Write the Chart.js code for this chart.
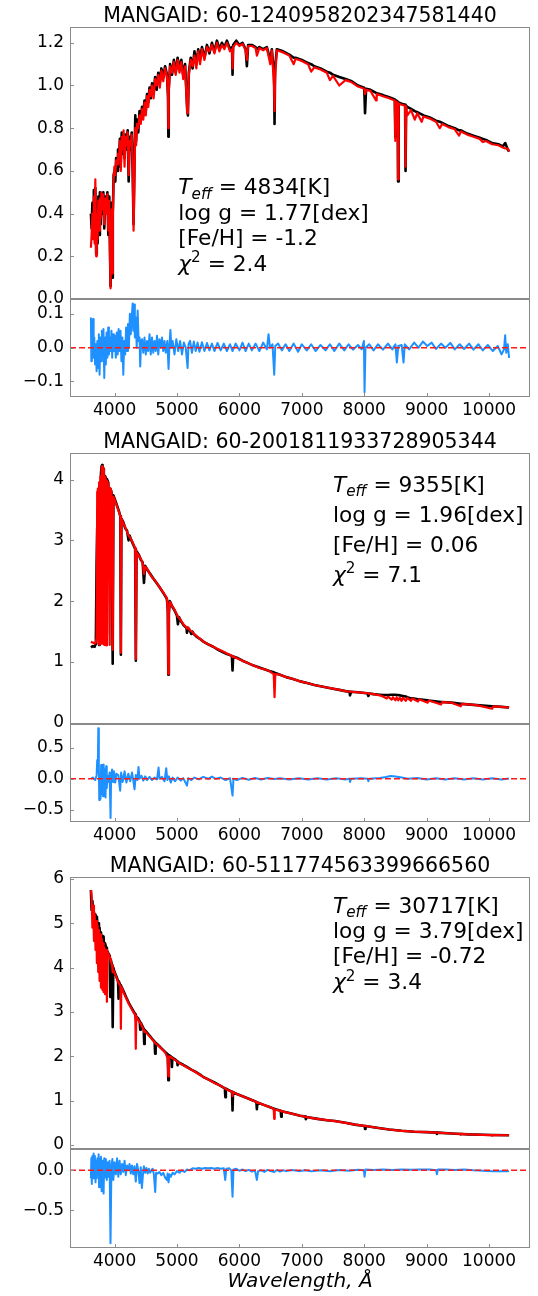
<!DOCTYPE html>
<html>
<head>
<meta charset="utf-8">
<script src="https://cdn.jsdelivr.net/npm/chart.js@4.4.0/dist/chart.umd.min.js"></script>
<style>
body { margin: 0; background: #fff; width: 538px; height: 1296px; overflow: hidden; position: relative; }
canvas { position: absolute; left: 0; }
</style>
</head>
<body>
<canvas id="main1" width="538" height="317" style="top:0px"></canvas>
<canvas id="res1" width="538" height="151" style="top:281px"></canvas>
<canvas id="main2" width="538" height="316" style="top:426px"></canvas>
<canvas id="res2" width="538" height="151" style="top:706px"></canvas>
<canvas id="main3" width="538" height="317" style="top:850px"></canvas>
<canvas id="res3" width="538" height="165" style="top:1131px"></canvas>
<script>
// wavelength axis, shared by every panel
var xMin = 3286, xMax = 10656;
var xTicks = [4000, 5000, 6000, 7000, 8000, 9000, 10000];

var titles = ['MANGAID: 60-1240958202347581440', 'MANGAID: 60-2001811933728905344', 'MANGAID: 60-511774563399666560'];
var teffs = ['4834', '9355', '30717'];
var loggs = ['1.77', '1.96', '3.79'];
var fehs = ['-1.2', '0.06', '-0.72'];
var chis = ['2.4', '7.1', '3.4'];

var yTicksMain1 = [0, 0.2, 0.4, 0.6, 0.8, 1.0, 1.2];
var yTicksRes1 = [-0.1, 0, 0.1];
var yTicksMain2 = [0, 1, 2, 3, 4];
var yTicksRes2 = [-0.5, 0, 0.5];
var yTicksMain3 = [0, 1, 2, 3, 4, 5, 6];
var yTicksRes3 = [-0.5, 0];

// ---- star 1 ----
var wave1 = [3621,3632,3645,3655,3668,3680,3692,3705,3715,3728,3740,3752,3765,3778,3790,3805,3820,3835,3850,3870,3885,3900,3915,3928,3936,3945,3955,3965,3972,3985,3998,4012,4025,4040,4055,4070,4085,4100,4115,4130,4145,4160,4175,4190,4210,4226,4240,4255,4275,4290,4304,4318,4332,4345,4360,4380,4400,4420,4440,4460,4480,4500,4520,4540,4560,4580,4600,4625,4650,4675,4700,4725,4750,4780,4810,4840,4856,4862,4868,4890,4920,4950,4980,5010,5040,5070,5100,5130,5165,5175,5190,5220,5250,5280,5310,5340,5370,5400,5440,5480,5520,5560,5600,5640,5680,5720,5760,5800,5850,5882,5890,5900,5950,
    6000,6050,6100,6120,6140,6200,6260,6280,6320,6380,6440,6495,6520,6555,6563,6572,6600,6700,6800,6870,6900,7000,7100,7150,7200,7300,7400,7450,7500,7600,7700,7800,7900,8000,8013,8030,8100,8190,8200,8300,8400,8490,8498,8510,8535,8542,8552,8600,8655,8662,8672,8690,8750,8810,8850,8920,8950,9050,9150,9210,9250,9350,9450,9520,9550,9650,9750,9850,9900,9950,10050,10150,10220,10260,10300,10321];
var obs1 = [0.40,0.33,0.45,0.36,0.51,0.30,0.52,0.21,0.42,0.26,0.48,0.30,0.50,0.35,0.49,0.40,0.50,0.33,0.48,0.42,0.50,0.30,0.48,0.20,0.06,0.25,0.45,0.10,0.40,0.58,0.60,0.55,0.66,0.60,0.70,0.62,0.75,0.64,0.78,0.68,0.76,0.66,0.77,0.70,0.79,0.55,0.76,0.70,0.78,0.60,0.35,0.62,0.86,0.74,0.84,0.78,0.88,0.84,0.90,0.86,0.93,0.88,0.96,0.92,0.99,0.94,1.01,0.96,1.04,0.98,1.06,1.01,1.08,1.04,1.09,1.05,0.95,0.76,0.98,1.10,1.05,1.12,1.06,1.13,1.08,1.12,1.05,1.10,0.88,0.86,1.06,1.13,1.08,1.16,1.10,1.17,1.12,1.18,1.13,1.19,1.15,1.20,1.16,1.21,1.17,1.20,1.18,1.21,1.17,1.18,1.05,1.19,1.21,
    1.19,1.20,1.17,1.09,1.19,1.19,1.18,1.17,1.18,1.17,1.18,1.12,1.17,1.05,0.82,1.08,1.17,1.16,1.145,1.13,1.13,1.12,1.105,1.10,1.09,1.08,1.065,1.06,1.05,1.04,1.03,1.02,1.00,0.99,0.87,0.985,0.98,0.965,0.965,0.955,0.945,0.935,0.76,0.93,0.925,0.55,0.92,0.915,0.91,0.60,0.905,0.90,0.89,0.88,0.875,0.865,0.86,0.85,0.835,0.83,0.825,0.81,0.80,0.79,0.79,0.775,0.765,0.755,0.75,0.745,0.73,0.725,0.715,0.73,0.70,0.69];
var model1 = [0.24,0.30,0.40,0.28,0.48,0.26,0.56,0.20,0.40,0.28,0.46,0.32,0.47,0.38,0.50,0.42,0.49,0.35,0.47,0.40,0.49,0.32,0.46,0.18,0.05,0.30,0.42,0.12,0.38,0.56,0.62,0.58,0.65,0.63,0.68,0.65,0.74,0.60,0.76,0.70,0.79,0.62,0.76,0.72,0.78,0.58,0.74,0.72,0.77,0.62,0.32,0.55,0.80,0.72,0.82,0.80,0.86,0.82,0.89,0.84,0.92,0.86,0.95,0.90,0.98,0.95,1.00,0.94,1.03,1.00,1.05,0.99,1.07,1.02,1.08,1.04,0.96,0.80,0.97,1.09,1.06,1.11,1.05,1.12,1.06,1.11,1.03,1.09,0.87,0.88,1.05,1.12,1.09,1.14,1.08,1.16,1.10,1.17,1.12,1.18,1.16,1.19,1.15,1.20,1.16,1.19,1.17,1.20,1.16,1.17,1.08,1.18,1.20,
    1.185,1.195,1.165,1.12,1.185,1.185,1.175,1.14,1.175,1.165,1.175,1.10,1.165,1.00,0.88,1.04,1.165,1.155,1.14,1.10,1.125,1.115,1.10,1.065,1.085,1.075,1.06,1.025,1.045,1.00,1.025,1.015,0.995,0.985,0.96,0.98,0.975,0.93,0.96,0.95,0.94,0.93,0.74,0.925,0.92,0.56,0.915,0.91,0.905,0.62,0.90,0.86,0.885,0.84,0.87,0.83,0.855,0.845,0.83,0.80,0.82,0.805,0.795,0.765,0.785,0.77,0.76,0.75,0.735,0.74,0.725,0.72,0.71,0.705,0.705,0.69];
var resWave1 = [3621,3628,3636,3645,3655,3665,3675,3688,3700,3712,3724,3735,3748,3760,3772,3785,3797,3810,3822,3835,3848,3860,3872,3885,3898,3910,3922,3936,3950,3962,3975,3990,4005,4020,4035,4050,4065,4080,4095,4110,4125,4140,4155,4170,4185,4200,4215,4230,4245,4260,4275,4290,4300,4312,4325,4340,4355,4370,4385,4400,4411,4425,4440,4460,4480,4500,4520,4540,4560,4580,4600,4620,4640,4660,4680,4700,4720,4740,4760,4780,4800,4820,4845,4865,4880,4895,4910,4930,4960,4990,5020,5050,5080,5110,5140,5170,5185,5210,5240,5270,5300,5330,5360,5400,5440,5480,5520,5560,5600,5650,5700,5750,5800,5850,5890,5940,6000,6050,6100,6150,6200,6260,6320,6380,6440,6467,6490,6530,6558,6575,6620,6680,6740,6800,6870,6940,7000,7080,7150,7220,7300,7380,7450,7520,7600,7680,7750,7820,7900,7960,7995,8005,8020,8080,8150,8220,8300,8380,8450,8500,8523,8545,8600,8630,8650,8720,8800,8870,8940,9010,9080,9150,9230,9300,9380,9450,9530,9600,9680,9750,9830,9900,9980,10060,10140,10200,10240,10258,10275,10300,10321];
var res1 = [0.089,-0.040,0.080,0.020,0.085,-0.030,0.030,-0.050,0.010,-0.070,0.020,-0.060,0.040,-0.080,0.030,-0.040,0.050,-0.020,0.055,-0.090,0.030,-0.050,0.045,-0.030,0.060,-0.020,0.030,-0.010,0.050,-0.030,0.040,-0.010,0.035,-0.030,0.045,-0.020,0.055,-0.010,0.050,-0.040,0.030,-0.080,0.020,-0.020,0.060,-0.010,0.070,0.000,0.100,0.040,0.090,0.131,0.050,0.128,0.030,0.090,0.000,0.110,0.020,0.030,-0.056,0.020,0.025,-0.015,0.030,-0.020,0.020,-0.010,0.040,-0.020,0.030,-0.015,0.020,-0.010,0.035,-0.020,0.025,0.000,0.030,-0.010,0.020,-0.015,0.020,-0.063,0.010,0.052,0.000,0.020,-0.020,0.025,-0.010,0.020,-0.020,0.015,0.000,-0.060,0.010,0.020,-0.015,0.018,-0.010,0.015,-0.012,0.016,-0.010,0.014,-0.008,0.012,-0.010,0.014,-0.008,0.012,-0.010,0.010,-0.010,0.012,-0.008,0.015,-0.010,0.012,-0.008,0.012,-0.010,0.015,-0.005,0.040,0.000,0.010,-0.080,0.005,0.012,-0.008,0.010,-0.010,0.012,-0.012,0.010,-0.008,0.010,-0.010,0.008,-0.008,0.010,-0.010,0.012,-0.008,0.010,-0.006,0.008,-0.005,0.020,-0.132,0.000,0.010,-0.008,0.010,-0.006,0.012,-0.005,0.010,-0.044,0.005,0.008,-0.044,0.010,-0.005,0.015,0.000,0.018,0.005,0.015,-0.004,0.012,0.000,0.014,-0.005,0.010,-0.004,0.012,-0.006,0.010,-0.008,0.008,-0.010,0.005,-0.020,-0.005,0.037,-0.015,0.010,-0.030];

// ---- star 2 ----
var wave2 = [3621,3650,3680,3700,3712,3722,3732,3742,3752,3762,3772,3782,3792,3800,3808,3816,3828,3836,3846,3860,3868,3877,3900,3922,3932,3950,3970,3982,4010,4040,4070,4092,4101,4110,4140,4170,4200,4224,4240,4270,4300,4330,4341,4352,4390,4420,4450,4471,4490,4530,4570,4610,4650,4700,4740,4790,4838,4853,4861,4870,4885,4930,4960,5000,5015,5030,5070,5110,5152,5160,5175,5200,5230,5245,5270,5320,5380,5430,5500,5580,5660,5740,5800,5880,5890,5900,5960,6050,6140,6227,6320,6400,6480,6550,6563,6575,6650,6750,6860,6974,7100,7200,7300,7400,7500,7600,7700,7765,7772,7790,7900,8000,8050,8066,8080,8150,8250,8300,8360,8380,8440,8460,8500,8520,8545,8570,8598,8620,8665,8690,8750,8770,8862,8880,9015,9035,9230,9250,9400,9546,9565,9800,10049,10070,10200,10321];
var obs2 = [1.24,1.26,1.25,1.30,2.60,3.20,1.40,3.70,1.28,3.95,1.35,4.10,4.22,4.24,1.45,4.18,4.12,1.30,4.06,4.03,1.45,4.01,3.95,2.40,3.85,3.80,0.97,3.74,3.66,3.57,3.48,3.40,1.12,3.36,3.30,3.20,3.16,3.00,3.08,3.00,2.93,2.86,1.02,2.82,2.76,2.68,2.64,2.30,2.58,2.51,2.45,2.39,2.33,2.26,2.20,2.12,2.04,1.85,0.79,1.80,2.00,1.90,1.85,1.76,1.62,1.74,1.66,1.60,1.56,1.48,1.56,1.53,1.46,1.50,1.46,1.41,1.37,1.33,1.29,1.25,1.20,1.16,1.13,1.10,0.86,1.09,1.07,1.02,0.98,0.94,0.91,0.88,0.85,0.83,0.78,0.82,0.79,0.75,0.72,0.68,0.65,0.62,0.60,0.58,0.56,0.54,0.52,0.51,0.45,0.51,0.50,0.49,0.485,0.44,0.48,0.47,0.46,0.455,0.455,0.455,0.46,0.46,0.46,0.455,0.455,0.45,0.445,0.44,0.43,0.42,0.40,0.40,0.385,0.385,0.37,0.365,0.34,0.34,0.33,0.31,0.31,0.29,0.27,0.27,0.26,0.25];
var model2 = [1.33,1.32,1.30,1.32,1.40,3.80,3.85,1.30,3.95,1.28,4.05,1.30,4.18,4.22,1.30,4.18,4.10,1.28,4.05,4.00,1.27,3.98,3.93,1.28,3.86,3.80,1.20,3.72,3.64,3.56,3.47,3.40,1.15,3.36,3.28,3.22,3.14,3.08,3.06,3.01,2.94,2.87,1.05,2.80,2.75,2.70,2.63,2.45,2.57,2.52,2.44,2.38,2.34,2.26,2.20,2.13,2.05,1.80,0.80,1.82,1.99,1.91,1.86,1.78,1.74,1.73,1.67,1.61,1.57,1.55,1.57,1.53,1.50,1.50,1.46,1.42,1.37,1.33,1.29,1.25,1.21,1.17,1.14,1.10,1.08,1.09,1.06,1.02,0.98,0.94,0.90,0.88,0.85,0.80,0.42,0.80,0.79,0.75,0.72,0.68,0.65,0.62,0.60,0.58,0.56,0.54,0.52,0.51,0.51,0.51,0.50,0.49,0.485,0.48,0.48,0.47,0.45,0.43,0.40,0.43,0.38,0.42,0.37,0.42,0.37,0.41,0.36,0.41,0.36,0.41,0.36,0.40,0.35,0.385,0.33,0.365,0.30,0.34,0.33,0.27,0.31,0.29,0.23,0.27,0.26,0.25];
var resWave2 = [3621,3650,3690,3712,3722,3730,3740,3748,3755,3765,3775,3785,3795,3805,3815,3825,3835,3845,3855,3865,3875,3890,3905,3920,3936,3945,3960,3975,3990,4010,4030,4060,4090,4105,4130,4160,4190,4220,4250,4280,4300,4320,4340,4365,4384,4400,4430,4460,4490,4520,4560,4600,4640,4680,4705,4720,4760,4800,4828,4845,4870,4900,4930,4970,5010,5060,5100,5160,5180,5230,5280,5350,5420,5500,5560,5620,5700,5780,5850,5890,5905,5960,6050,6150,6250,6350,6450,6563,6650,6800,6950,7100,7250,7400,7550,7700,7765,7772,7790,7950,8055,8066,8080,8250,8350,8420,8500,8600,8700,8850,9000,9150,9300,9450,9600,9750,9900,10050,10200,10321];
var res2 = [0.00,0.02,-0.02,0.05,0.30,0.10,0.81,0.20,-0.34,-0.20,-0.32,0.22,-0.25,0.22,-0.28,0.23,-0.10,0.15,-0.30,0.20,-0.15,0.05,-0.05,0.10,-0.63,0.05,0.15,-0.05,0.12,-0.06,0.08,0.06,-0.19,0.10,-0.05,0.12,-0.06,0.08,-0.04,0.10,-0.03,-0.17,0.06,-0.02,0.19,0.00,0.05,-0.03,0.04,-0.02,0.03,-0.02,0.02,-0.01,0.18,0.00,0.03,-0.04,0.17,-0.02,0.04,-0.06,0.02,-0.04,0.02,-0.03,0.01,-0.11,0.01,-0.02,0.02,-0.01,0.03,0.00,0.035,0.00,0.02,-0.02,0.01,-0.27,0.00,-0.02,0.015,-0.015,0.012,-0.01,0.012,-0.005,0.01,-0.01,0.01,-0.012,0.008,-0.01,0.008,-0.01,0.00,-0.05,0.00,0.01,0.00,-0.04,0.00,0.012,0.03,0.045,0.035,0.02,0.00,0.012,-0.01,0.01,-0.012,0.008,-0.012,0.008,-0.012,0.008,-0.01,0.005];

// ---- star 3 ----
var wave3 = [3621,3632,3645,3658,3670,3682,3695,3706,3717,3728,3738,3750,3760,3772,3782,3795,3805,3816,3824,3836,3848,3866,3877,3890,3910,3924,3931,3940,3960,3970,3980,4000,4030,4056,4064,4072,4094,4101,4108,4150,4190,4230,4270,4310,4332,4340,4348,4380,4403,4411,4419,4467,4475,4483,4530,4570,4610,4642,4650,4658,4710,4760,4810,4852,4861,4870,4900,4912,4919,4926,4980,5003,5010,5017,5100,5159,5230,5300,5370,5426,5500,5600,5693,5767,5775,5783,5882,5890,5898,5960,6050,6140,6227,6272,6280,6288,6400,6494,6550,6558,6566,6662,6670,6678,6800,6974,7058,7065,7072,7250,7400,7531,7700,7850,8005,8013,8021,8200,8400,8600,8800,9000,9157,9164,9171,9400,9538,9546,9554,9668,9900,10040,10049,10058,10321];
var obs3 = [5.75,5.30,5.50,5.20,5.25,5.10,5.20,4.95,5.15,4.90,5.00,4.75,4.90,4.65,4.80,4.50,4.72,4.40,4.70,4.30,4.55,4.45,4.40,4.35,4.30,4.26,3.34,4.18,4.05,2.66,4.00,3.90,3.80,3.70,3.30,3.68,3.60,3.50,3.58,3.45,3.32,3.20,3.10,3.00,2.95,2.85,2.90,2.85,2.79,2.60,2.76,2.62,2.28,2.60,2.52,2.45,2.38,2.33,2.06,2.31,2.24,2.17,2.10,2.05,1.46,2.03,2.00,1.98,1.76,1.97,1.92,1.89,1.80,1.87,1.81,1.76,1.70,1.65,1.59,1.53,1.48,1.41,1.34,1.28,1.08,1.27,1.20,0.78,1.19,1.15,1.10,1.05,1.00,0.97,0.81,0.96,0.90,0.85,0.82,0.79,0.81,0.77,0.64,0.76,0.72,0.66,0.64,0.58,0.63,0.59,0.56,0.54,0.50,0.46,0.43,0.36,0.43,0.39,0.35,0.32,0.30,0.29,0.28,0.25,0.28,0.26,0.25,0.25,0.25,0.24,0.23,0.225,0.225,0.225,0.22];
var model3 = [5.75,5.60,4.90,5.40,4.60,5.20,4.40,5.05,4.10,4.95,3.90,4.85,3.70,4.75,3.55,4.65,3.50,4.55,3.45,4.45,3.40,4.40,3.23,4.35,4.28,4.24,4.20,4.14,4.05,3.90,3.95,3.88,3.78,3.68,3.65,3.64,3.58,2.62,3.57,3.42,3.30,3.18,3.08,2.98,2.93,2.17,2.90,2.82,2.77,2.75,2.74,2.60,2.55,2.58,2.50,2.44,2.37,2.32,2.30,2.30,2.23,2.16,2.09,1.95,1.55,2.00,1.99,1.97,1.96,1.96,1.91,1.88,1.88,1.86,1.80,1.75,1.70,1.64,1.58,1.53,1.48,1.40,1.34,1.28,1.27,1.26,1.20,1.10,1.19,1.15,1.10,1.05,1.00,0.97,0.95,0.96,0.90,0.85,0.81,0.59,0.80,0.77,0.77,0.76,0.72,0.66,0.64,0.64,0.63,0.59,0.56,0.54,0.50,0.46,0.43,0.43,0.43,0.39,0.35,0.32,0.30,0.29,0.28,0.28,0.28,0.26,0.25,0.23,0.25,0.24,0.23,0.225,0.21,0.225,0.22];
var resWave3 = [3621,3628,3635,3645,3655,3665,3675,3685,3695,3705,3715,3725,3735,3745,3752,3762,3772,3782,3792,3805,3814,3824,3835,3848,3860,3875,3890,3905,3920,3935,3950,3965,3980,4000,4020,4040,4060,4080,4100,4120,4140,4160,4180,4200,4220,4240,4260,4280,4300,4320,4340,4360,4380,4400,4420,4438,4455,4470,4490,4510,4530,4550,4570,4590,4610,4630,4651,4665,4690,4720,4750,4780,4810,4838,4850,4865,4880,4900,4930,4960,5000,5040,5080,5120,5160,5200,5250,5300,5350,5400,5450,5500,5550,5600,5650,5700,5750,5773,5790,5840,5870,5890,5905,5950,6000,6050,6100,6150,6200,6250,6280,6300,6350,6400,6450,6500,6558,6600,6650,6700,6750,6850,6950,7050,7150,7300,7450,7600,7750,7900,7995,8005,8020,8150,8300,8450,8600,8750,8900,9050,9155,9164,9180,9300,9450,9600,9750,9900,10050,10200,10321];
var res3 = [-0.10,0.15,-0.17,0.18,-0.10,0.21,-0.05,0.18,-0.15,0.12,-0.10,0.15,-0.04,0.20,-0.21,0.14,-0.05,0.17,-0.26,0.12,-0.05,-0.29,0.15,-0.09,0.14,-0.12,0.10,-0.08,0.12,-0.91,0.05,0.14,-0.12,0.10,-0.05,0.15,-0.08,0.12,-0.05,0.08,-0.02,0.12,-0.06,0.06,0.00,0.08,-0.04,0.06,-0.05,0.05,-0.14,0.08,0.00,-0.16,0.04,-0.22,-0.05,0.05,-0.03,0.03,-0.04,0.02,-0.03,0.00,0.02,-0.05,-0.27,-0.03,-0.04,-0.02,-0.06,-0.03,-0.09,-0.12,-0.04,-0.15,-0.05,-0.08,-0.03,-0.05,-0.01,-0.03,0.00,-0.02,0.01,0.00,0.025,0.02,0.03,0.02,0.03,0.025,0.03,0.02,0.03,0.02,0.025,-0.12,0.02,0.025,0.00,-0.33,0.01,0.02,-0.005,0.01,-0.01,0.005,-0.015,0.00,-0.12,-0.01,0.00,-0.02,0.005,-0.01,-0.02,0.005,-0.015,0.00,-0.01,0.005,-0.01,0.00,-0.012,0.00,-0.01,0.005,-0.005,0.008,0.00,-0.08,0.01,0.005,0.01,0.005,0.01,0.008,0.012,0.01,0.00,-0.05,0.01,0.012,0.005,0.01,0.00,-0.005,-0.01,-0.012,-0.01];

// -------------------------------------------------------------
Chart.defaults.font.family = 'DejaVu Sans';
Chart.defaults.color = '#000';

var big = '21.7px "DejaVu Sans"';
var bigI = 'italic 21.7px "DejaVu Sans"';
var smallI = 'italic 15.2px "DejaVu Sans"';
var small = '15.2px "DejaVu Sans"';

function pts(xs, ys) {
    return xs.map(function (x, i) { return {x: x, y: ys[i]}; });
}

function fmt(d) {
    return function (v) { return v.toFixed(d).replace('-', '\u2212'); };
}

function setTicks(list) {
    return function (axis) {
        axis.ticks = list.map(function (v) { return {value: v}; });
    };
}

function paramLines(k) {
    return [
        [{t: 'T', f: bigI}, {t: 'eff', f: smallI, dy: 4.5}, {t: ' = ' + teffs[k] + '[K]', f: big}],
        [{t: 'log g = ' + loggs[k] + '[dex]', f: big}],
        [{t: '[Fe/H] = ' + fehs[k], f: big}],
        [{t: '\u03c7', f: bigI}, {t: '2', f: small, dy: -8.5}, {t: ' = ' + chis[k], f: big}]
    ];
}

// box round the plot plus short inward ticks, like the matplotlib axes
var framePlugin = {
    id: 'frame',
    afterDatasetsDraw: function (chart) {
        var ctx = chart.ctx, a = chart.chartArea, sx = chart.scales.x, sy = chart.scales.y;
        ctx.save();
        ctx.strokeStyle = '#8a8a8a';
        ctx.lineWidth = 1;
        ctx.strokeRect(a.left + 0.5, a.top + 0.5, a.right - a.left - 1, a.bottom - a.top - 1);
        ctx.beginPath();
        sy.ticks.forEach(function (t) {
            var y = Math.round(sy.getPixelForValue(t.value)) + 0.5;
            ctx.moveTo(a.left, y);
            ctx.lineTo(a.left + 4, y);
        });
        if (sx.options.display) {
            sx.ticks.forEach(function (t) {
                var x = Math.round(sx.getPixelForValue(t.value)) + 0.5;
                ctx.moveTo(x, a.bottom);
                ctx.lineTo(x, a.bottom - 4);
            });
        }
        ctx.stroke();
        ctx.restore();
    }
};

function titlePlugin(text) {
    return {
        id: 'ptitle',
        afterDraw: function (chart) {
            var ctx = chart.ctx, a = chart.chartArea;
            ctx.save();
            ctx.fillStyle = '#000';
            ctx.font = '20.5px "DejaVu Sans"';
            ctx.textAlign = 'center';
            ctx.textBaseline = 'middle';
            ctx.fillText(text, (a.left + a.right) / 2, a.top - 10.5);
            ctx.restore();
        }
    };
}

function notePlugin(lines, fx, fy) {
    return {
        id: 'note',
        afterDraw: function (chart) {
            var ctx = chart.ctx, a = chart.chartArea;
            ctx.save();
            ctx.fillStyle = '#000';
            ctx.textAlign = 'left';
            ctx.textBaseline = 'alphabetic';
            lines.forEach(function (ln, i) {
                var x = a.left + fx * (a.right - a.left);
                var y = a.top + fy[i] * (a.bottom - a.top);
                ln.forEach(function (s) {
                    ctx.font = s.f;
                    ctx.fillText(s.t, x, y + (s.dy || 0));
                    x += ctx.measureText(s.t).width;
                });
            });
            ctx.restore();
        }
    };
}

var xLabelPlugin = {
    id: 'xlab',
    afterDraw: function (chart) {
        var ctx = chart.ctx, a = chart.chartArea;
        ctx.save();
        ctx.fillStyle = '#000';
        ctx.font = 'italic 20px "DejaVu Sans"';
        ctx.textAlign = 'center';
        ctx.textBaseline = 'middle';
        ctx.fillText('Wavelength, \u00c5', (a.left + a.right) / 2, a.bottom + 34);
        ctx.restore();
    }
};

function lineSet(data, color, width, order, dash) {
    return {
        data: data, borderColor: color, borderWidth: width, order: order,
        borderDash: dash || [], pointRadius: 0, tension: 0, fill: false,
        borderJoinStyle: 'round'
    };
}

// padding of 18 leaves room for the half tick label Chart.js reserves at the ends of the y axis
function makeChart(id, datasets, yMin, yMax, yTicks, yFmt, isRes, padBottom, plugins) {
    var options = {
        responsive: false,
        animation: false,
        devicePixelRatio: 1,
        parsing: false,
        layout: {padding: {left: 0, right: 8, top: isRes ? 18 : 27, bottom: padBottom}},
        plugins: {
            legend: {display: false},
            tooltip: {enabled: false},
            title: {display: false}
        },
        scales: {
            x: {
                type: 'linear', min: xMin, max: xMax, display: isRes,
                afterBuildTicks: setTicks(xTicks),
                afterFit: function (s) { if (isRes) s.height = 30; },
                ticks: {font: {size: 17}, color: '#000', padding: 3, autoSkip: false, maxRotation: 0,
                    callback: function (v) { return String(v); }},
                grid: {display: false, drawTicks: false},
                border: {display: false}
            },
            y: {
                type: 'linear', min: yMin, max: yMax,
                afterBuildTicks: setTicks(yTicks),
                afterFit: function (s) { s.width = 70; },
                ticks: {font: {size: 17}, color: '#000', padding: 6, autoSkip: false, callback: yFmt},
                grid: {display: false, drawTicks: false},
                border: {display: false}
            }
        }
    };
    return new Chart(document.getElementById(id), {
        type: 'line',
        data: {datasets: datasets},
        options: options,
        plugins: [framePlugin].concat(plugins || [])
    });
}

function spectrum(wave, obs, model) {
    return [lineSet(pts(wave, model), '#ff0000', 2.2, 0), lineSet(pts(wave, obs), '#000000', 2.6, 1)];
}

function residual(wave, res) {
    return [lineSet(pts([xMin, xMax], [0, 0]), '#ff1a1a', 1.5, 0, [6, 3]), lineSet(pts(wave, res), '#1e90ff', 2, 1)];
}

makeChart('main1', spectrum(wave1, obs1, model1), 0, 1.274, yTicksMain1, fmt(1), false, 18,
    [titlePlugin(titles[0]), notePlugin(paramLines(0), 0.2354, [0.6146, 0.7085, 0.8023, 0.896])]);
makeChart('res1', residual(resWave1, res1), -0.146, 0.144, yTicksRes1, fmt(1), true, 5);

makeChart('main2', spectrum(wave2, obs2, model2), -0.021, 4.437, yTicksMain2, fmt(0), false, 18,
    [titlePlugin(titles[1]), notePlugin(paramLines(1), 0.5717, [0.1428, 0.2535, 0.3635, 0.4742])]);
makeChart('res2', residual(resWave2, res2), -0.694, 0.88, yTicksRes2, fmt(1), true, 5);

makeChart('main3', spectrum(wave3, obs3, model3), -0.09, 6.045, yTicksMain3, fmt(0), false, 18,
    [titlePlugin(titles[2]), notePlugin(paramLines(2), 0.5717, [0.131, 0.2254, 0.3173, 0.413])]);
makeChart('res3', residual(resWave3, res3), -0.968, 0.266, yTicksRes3, fmt(1), true, 18, [xLabelPlugin]);
</script>
</body>
</html>
